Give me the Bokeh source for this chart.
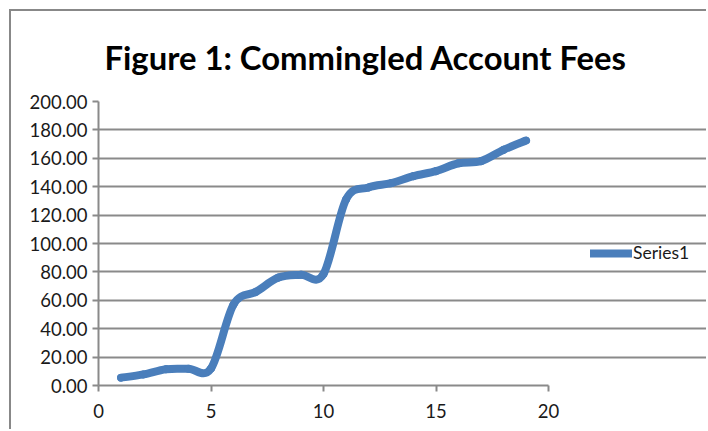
from bokeh.plotting import figure
from bokeh.models import (Range1d, FixedTicker, NumeralTickFormatter,
                          Legend, LegendItem, ColumnDataSource)
from bokeh.embed import file_html
from bokeh.resources import INLINE

# ---- data ----
title_text = "Figure 1: Commingled Account Fees"
series_name = "Series1"
x_vals = [1, 2, 3, 4, 5, 6, 7, 8, 9, 10, 11, 12, 13, 14, 15, 16, 17, 18, 19]
y_vals = [5.5, 7.8, 11.5, 11.8, 12.0, 57.0, 66.0, 76.0, 78.0, 78.5,
          131.0, 139.5, 142.5, 147.5, 151.0, 156.5, 158.0, 166.0, 172.5]
x_ticks = [0, 5, 10, 15, 20]
y_ticks = [0, 20, 40, 60, 80, 100, 120, 140, 160, 180, 200]
x_min, x_max = 0, 20
y_min, y_max = 0, 200

FONT = "Lato"
BLUE = "#4a7ebb"
GRID = "#8a8a8a"

# the plot frame runs to the right edge so the legend can sit inside it;
# axis and grid are bounded to 0..20
LEFT, RIGHT_AXIS, RIGHT_EDGE = 97.7, 548.0, 708.0
x_end = x_max * (RIGHT_EDGE - LEFT) / (RIGHT_AXIS - LEFT)

p = figure(width=697, height=420, output_backend="svg", toolbar_location=None,
           x_range=Range1d(x_min, x_end), y_range=Range1d(y_min, y_max),
           min_border_left=87, min_border_right=0, min_border_top=89,
           min_border_bottom=46)
p.styles = {"margin-left": "9px", "margin-top": "9px",
            "border-left": "2px solid #888888", "border-top": "2px solid #888888"}
p.outline_line_color = None
p.background_fill_color = "white"
p.border_fill_color = "white"

p.title.text = title_text
p.title.align = "left"
p.title.offset = 6
p.title.standoff = 49
p.title.text_font = FONT
p.title.text_font_style = "bold"
p.title.text_font_size = "32.8px"
p.title.text_color = "#000000"

# smoothed line (Catmull-Rom style bezier segments built from the data points)
n = len(x_vals)
x0s, y0s, x1s, y1s, cx0s, cy0s, cx1s, cy1s = [], [], [], [], [], [], [], []
for i in range(n - 1):
    xa, ya = x_vals[i], y_vals[i]
    xb, yb = x_vals[i + 1], y_vals[i + 1]
    xp, yp = (x_vals[i - 1], y_vals[i - 1]) if i > 0 else (xa, ya)
    xn, yn = (x_vals[i + 2], y_vals[i + 2]) if i + 2 < n else (xb, yb)
    x0s.append(xa); y0s.append(ya); x1s.append(xb); y1s.append(yb)
    cx0s.append(xa + (xb - xp) / 6.0); cy0s.append(ya + (yb - yp) / 6.0)
    cx1s.append(xb - (xn - xa) / 6.0); cy1s.append(yb - (yn - ya) / 6.0)
src = ColumnDataSource(dict(x0=x0s, y0=y0s, x1=x1s, y1=y1s,
                            cx0=cx0s, cy0=cy0s, cx1=cx1s, cy1=cy1s))
curve = p.bezier(x0="x0", y0="y0", x1="x1", y1="y1", cx0="cx0", cy0="cy0",
                 cx1="cx1", cy1="cy1", source=src, line_color=BLUE,
                 line_width=8, line_cap="round")
p.scatter(x_vals, y_vals, size=7.5, color=BLUE, line_color=None)

legend = Legend(items=[LegendItem(label=series_name, renderers=[curve])],
                location=(492, 122), glyph_width=42, glyph_height=20,
                label_standoff=1, padding=0, margin=0, spacing=0,
                border_line_color=None, background_fill_alpha=0,
                label_text_font=FONT, label_text_font_size="17.5px",
                label_text_color="#1a1a1a")
p.add_layout(legend, "center")

# axes
for ax in (p.xaxis[0], p.yaxis[0]):
    ax.axis_line_color = GRID
    ax.axis_line_width = 2
    ax.major_tick_line_color = GRID
    ax.major_tick_line_width = 2
    ax.major_tick_out = 6
    ax.major_tick_in = 0
    ax.minor_tick_line_color = None
    ax.major_label_text_font = FONT
    ax.major_label_text_font_size = "18.5px"
    ax.major_label_text_color = "#1a1a1a"
p.xaxis[0].ticker = FixedTicker(ticks=x_ticks)
p.xaxis[0].bounds = (x_min, x_max)
p.yaxis[0].ticker = FixedTicker(ticks=y_ticks)
p.yaxis[0].formatter = NumeralTickFormatter(format="0.00")
p.yaxis[0].major_label_standoff = 5
p.xaxis[0].major_label_standoff = 12

p.xgrid.grid_line_color = None
p.ygrid.grid_line_color = GRID
p.ygrid.grid_line_width = 2
p.ygrid.ticker = FixedTicker(ticks=y_ticks)
p.ygrid.bounds = (x_min, x_max)

open("out.html", "w").write(file_html(p, INLINE))
